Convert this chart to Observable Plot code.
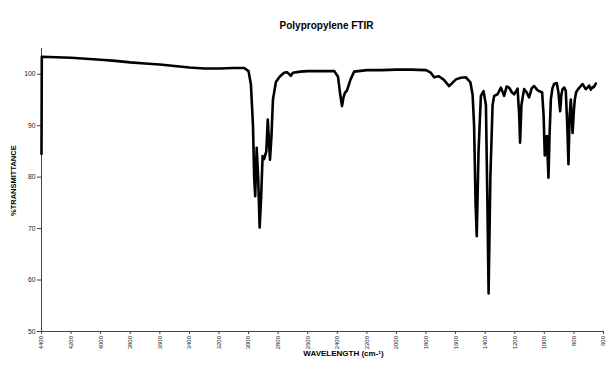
<!DOCTYPE html>
<html>
<head>
<meta charset="utf-8">
<script src="https://cdn.jsdelivr.net/npm/d3@7"></script>
<script src="https://cdn.jsdelivr.net/npm/@observablehq/plot@0.6"></script>
<style>
  html, body { margin: 0; padding: 0; background: #fff; }
  #chart svg { display: block; }
</style>
</head>
<body>
<div id="chart"></div>
<script>
const title = "Polypropylene FTIR";
const xLabel = "WAVELENGTH (cm-\u00B9)";
const yLabel = "%TRANSMITTANCE";
const xTicks = [4400, 4200, 4000, 3800, 3600, 3400, 3200, 3000, 2800, 2600, 2400, 2200, 2000, 1800, 1600, 1400, 1200, 1000, 800, 600];
const yTicks = [50, 60, 70, 80, 90, 100];

const wavenumber = [
  4400, 4398, 4300, 4200, 4100, 4000, 3900, 3800, 3700, 3600, 3500, 3400, 3300, 3200, 3100, 3030,
  3000, 2984, 2970, 2962, 2955, 2945, 2935, 2925, 2915, 2905, 2895, 2880, 2870, 2855, 2845, 2835,
  2815, 2790, 2760, 2740, 2714, 2700, 2650, 2600, 2500, 2420, 2395, 2380, 2368, 2358, 2348, 2335,
  2310, 2286, 2200, 2100, 2000, 1900, 1800, 1768, 1745, 1713, 1679, 1644, 1598, 1565, 1530, 1500,
  1485, 1475, 1465, 1457, 1445, 1429, 1411, 1395, 1385, 1377, 1365, 1350, 1339, 1316, 1294, 1272,
  1255, 1238, 1220, 1204, 1181, 1170, 1164, 1155, 1137, 1120, 1103, 1085, 1069, 1050, 1035, 1015,
  1005, 997, 990, 983, 975, 972, 965, 956, 945, 934, 916, 905, 893, 885, 877, 865,
  855, 845, 837, 829, 821, 809, 800, 794, 785, 772, 760, 742, 720, 705, 697, 685,
  674, 665, 652
];
const transmittance = [
  84.5, 103.4, 103.3, 103.2, 103.0, 102.8, 102.6, 102.3, 102.1, 101.9, 101.6, 101.3, 101.1, 101.1, 101.2, 101.2,
  100.6, 98.0, 90.0, 80.0, 76.3, 85.7, 80.0, 70.2, 76.0, 84.1, 83.5, 85.0, 91.2, 83.4, 88.0, 95.1,
  98.5, 99.5, 100.3, 100.4, 99.7, 100.3, 100.5, 100.6, 100.6, 100.6, 99.5, 96.0, 93.8, 95.5, 96.4, 96.8,
  99.0, 100.5, 100.8, 100.8, 100.9, 100.9, 100.8, 100.3, 99.4, 99.6, 98.9, 97.7, 99.0, 99.3, 99.4, 98.4,
  96.0, 90.0, 75.0, 68.5, 85.0, 95.8, 96.7, 94.0, 75.0, 57.4, 80.0, 94.0, 95.8, 96.1, 97.4, 95.8,
  97.6, 97.4, 96.5, 96.1, 97.2, 92.0, 86.7, 94.0, 97.1, 96.5, 95.5, 97.3, 97.7, 97.0, 96.7, 96.5,
  92.0, 84.2, 86.0, 88.0, 82.0, 79.9, 88.0, 95.1, 97.3, 98.1, 98.3, 96.5, 92.8, 96.0, 97.1, 97.4,
  96.8, 90.0, 82.5, 92.0, 95.1, 88.6, 93.0, 95.1, 96.5, 97.1, 97.5, 98.1, 97.1, 97.5, 97.8, 97.0,
  97.5, 97.5, 98.2
];

const data = wavenumber.map((w, i) => ({w, t: transmittance[i]}));
const font = "'Liberation Sans', Arial, sans-serif";

const chart = Plot.plot({
  width: 610,
  height: 371,
  marginLeft: 41,
  marginRight: 7,
  marginTop: 48,
  marginBottom: 40,
  style: {fontFamily: font, color: "#222", background: "#fff"},
  x: {domain: [4400, 600], axis: null},
  y: {domain: [50, 105], axis: null},
  marks: [
    Plot.axisY({ticks: yTicks, tickSize: 4, tickPadding: 2, tickFormat: d => String(d), label: null, fontSize: 6.8, stroke: "#444"}),
    Plot.axisX({ticks: xTicks, tickSize: 3, tickPadding: 1.5, tickRotate: -90, tickFormat: d => String(d), label: null, fontSize: 6, stroke: "#444"}),
    Plot.ruleX([4400], {y1: 50, y2: 105, stroke: "#444", strokeWidth: 1}),
    Plot.ruleY([50], {x1: 4400, x2: 600, stroke: "#444", strokeWidth: 1}),
    Plot.line(data, {x: "w", y: "t", stroke: "#000", strokeWidth: 2.6, strokeLinejoin: "round", strokeLinecap: "round"}),
    Plot.text([title], {frameAnchor: "top", dx: 4, dy: -27, fontSize: 10, fontWeight: "bold", fill: "#000"}),
    Plot.text([yLabel], {frameAnchor: "left", rotate: -90, dx: -28, dy: 26, fontSize: 7.5, fontWeight: "bold", fill: "#000"}),
    Plot.text([xLabel], {frameAnchor: "bottom", dx: 21, dy: 24, fontSize: 8, fontWeight: "bold", fill: "#000"})
  ]
});
document.getElementById("chart").appendChild(chart);
</script>
</body>
</html>
